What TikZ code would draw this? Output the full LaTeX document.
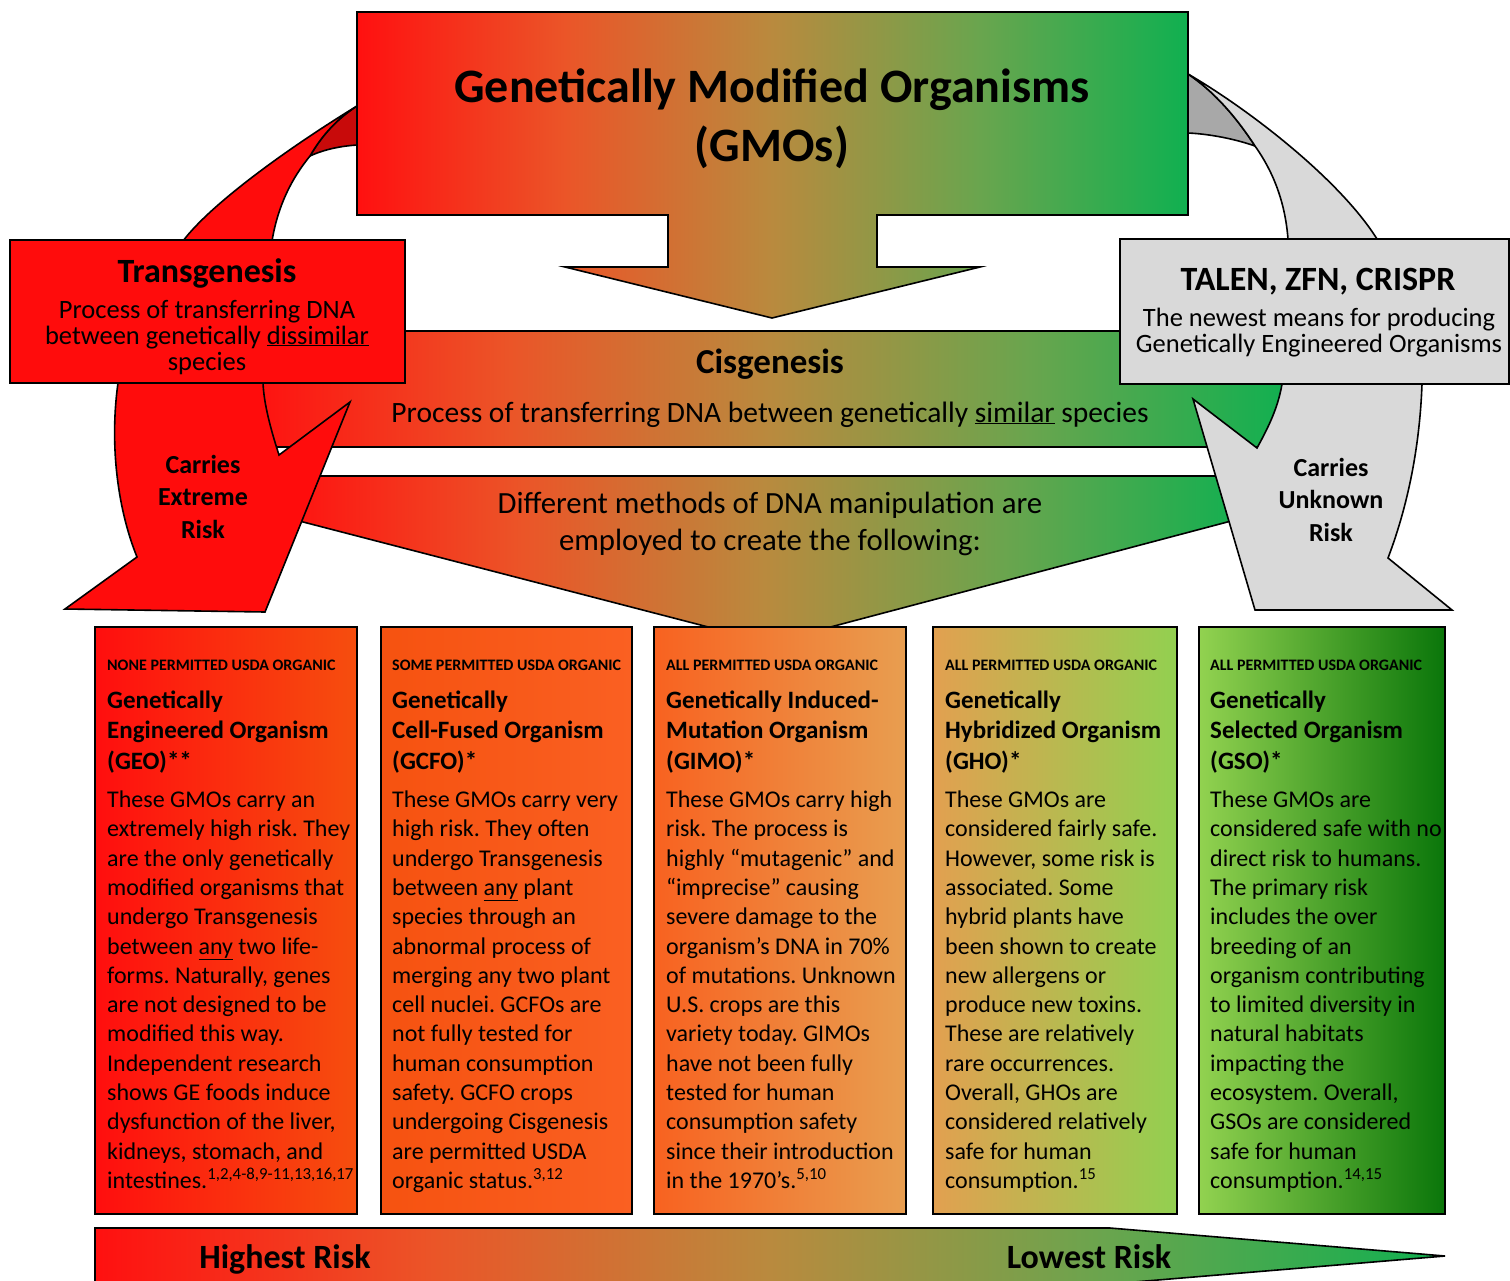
\documentclass[tikz,border=0pt]{standalone}
\usepackage{fontspec}
\setmainfont{Carlito}
\frenchspacing
\definecolor{rk1}{RGB}{255,16,16}
\definecolor{rk2}{RGB}{235,85,40}
\definecolor{rk3}{RGB}{185,138,62}
\definecolor{rk4}{RGB}{105,165,78}
\definecolor{rk5}{RGB}{16,176,80}
\definecolor{tred}{RGB}{255,12,12}
\definecolor{tredd}{RGB}{200,10,10}
\definecolor{tgry}{RGB}{217,217,217}
\definecolor{tgryd}{RGB}{168,168,168}
\definecolor{bA1}{RGB}{255,14,14}\definecolor{bA2}{RGB}{246,78,14}
\definecolor{bB1}{RGB}{246,82,16}\definecolor{bB2}{RGB}{250,96,34}
\definecolor{bC1}{RGB}{248,98,32}\definecolor{bC2}{RGB}{232,158,80}
\definecolor{bD1}{RGB}{226,160,80}\definecolor{bD2}{RGB}{200,188,80}\definecolor{bD3}{RGB}{146,208,80}
\definecolor{bE1}{RGB}{146,210,80}\definecolor{bE2}{RGB}{10,118,10}
\pgfdeclarehorizontalshading{riskshade}{100bp}{color(0bp)=(rk1); color(25bp)=(rk1); color(37.5bp)=(rk2); color(50bp)=(rk3); color(62.5bp)=(rk4); color(75bp)=(rk5); color(100bp)=(rk5)}
\begin{document}
\begin{tikzpicture}[x=1pt,y=-1pt,
  outl/.style={draw=black, line width=1.6pt, line join=miter},
  riskfill/.style={shade, shading=riskshade},
  lbl/.style={inner sep=0pt, anchor=base},
  lblw/.style={inner sep=0pt, anchor=base west},
  hdr/.style={lblw, font=\fontsize{16}{19}\selectfont\bfseries}]
\useasboundingbox (0,0) rectangle (1510,1280);
\clip (0,0) rectangle (1510,1280);

% Cisgenesis band
\path[outl, riskfill] (250,331) rectangle (1290,447);
% Different methods arrow
\path[outl, riskfill] (280,476) -- (1250,476) -- (1250,516) -- (770,643) -- (280,516) -- cycle;

% red curved arrow
\path[outl, fill=tredd] (357,106) .. controls (338,118) and (322,135) .. (310,156) .. controls (325,149) and (342,146) .. (357,145) -- cycle;
\path[outl, fill=tred] (357,106) .. controls (285,150) and (210,205) .. (183,241) -- (118,383)
   .. controls (110,440) and (116,505) .. (137,557) -- (65,609) -- (265,612) -- (350,402) -- (279,455)
   .. controls (271,430) and (264,405) .. (263,383) -- (272,241)
   .. controls (278,205) and (292,178) .. (310,156) .. controls (322,135) and (338,118) .. (357,106) -- cycle;

% grey curved arrow
\path[outl, fill=tgryd] (1188,74) .. controls (1212,90) and (1235,115) .. (1255,146) .. controls (1235,139) and (1210,134) .. (1188,133) -- cycle;
\path[outl, fill=tgry] (1188,74) .. controls (1250,110) and (1340,180) .. (1377,239) -- (1422,384)
   .. controls (1420,440) and (1410,500) .. (1388,558) -- (1452,610) -- (1255,610) -- (1193,399) -- (1257,448)
   .. controls (1268,428) and (1278,408) .. (1282,384) -- (1288,239)
   .. controls (1285,200) and (1272,170) .. (1255,146) .. controls (1235,115) and (1212,90) .. (1188,74) -- cycle;

% top box with down arrow
\path[outl, riskfill] (357,12) -- (1188,12) -- (1188,215) -- (877,215) -- (877,267) -- (980,267) -- (772,318) -- (565,267) -- (668,267) -- (668,215) -- (357,215) -- cycle;

% side boxes
\path[outl, fill=tred] (10,240) rectangle (405,383);
\path[outl, fill=tgry] (1120,239) rectangle (1509,384);

% bottom boxes
\path[outl, left color=bA1, right color=bA2] (95,627) rectangle (357,1214);
\path[outl, left color=bB1, right color=bB2] (381,627) rectangle (632,1214);
\path[outl, left color=bC1, right color=bC2] (654,627) rectangle (906,1214);
\path[outl, left color=bD1, middle color=bD2, right color=bD3] (933,627) rectangle (1177,1214);
\path[outl, left color=bE1, right color=bE2] (1199,627) rectangle (1445,1214);

% bottom risk arrow
\path[outl, riskfill] (95,1228) -- (1110,1228) -- (1445,1256) -- (1110,1284) -- (95,1284) -- cycle;

% ---------- texts ----------
\node[lbl] (title) at (772,102) {\parbox[t]{900pt}{\centering\fontsize{48}{59}\selectfont\bfseries Genetically Modified Organisms\\ (GMOs)}};

\node[lbl] (trans) at (207,282) {\fontsize{34}{40}\selectfont\bfseries Transgenesis};
\node[lbl] (transsub) at (207,318) {\parbox[t]{500pt}{\centering\fontsize{26.5}{26}\selectfont\lineskiplimit=-50pt Process of transferring DNA\\ between genetically \underline{dissimilar}\\ species}};
\node[lbl] (extreme) at (203,473) {\parbox[t]{200pt}{\centering\fontsize{26}{32.5}\selectfont\bfseries Carries\\ Extreme\\ Risk}};

\node[lbl] (talen) at (1318,290) {\fontsize{34}{40}\selectfont\bfseries TALEN, ZFN, CRISPR};
\node[lbl] (talensub) at (1319,326) {\parbox[t]{500pt}{\centering\fontsize{26.5}{26}\selectfont\lineskiplimit=-50pt The newest means for producing\\ Genetically Engineered Organisms}};
\node[lbl] (unknown) at (1331,476) {\parbox[t]{200pt}{\centering\fontsize{26}{32.5}\selectfont\bfseries Carries\\ Unknown\\ Risk}};

\node[lbl] (cis) at (770,373) {\fontsize{35}{40}\selectfont\bfseries Cisgenesis};
\node[lbl] (cissub) at (770,422) {\fontsize{29.5}{34}\selectfont Process of transferring DNA between genetically \underline{similar} species};
\node[lbl] (diff) at (770,513) {\parbox[t]{800pt}{\centering\fontsize{30.8}{37.5}\selectfont Different methods of DNA manipulation are\\ employed to create the following:}};

% box 1
\node[hdr] (h1) at (107,670) {NONE PERMITTED USDA ORGANIC};
\node[lblw] (t1) at (107,708) {\parbox[t]{300pt}{\raggedright\fontsize{25}{30.5}\selectfont\bfseries Genetically\\ Engineered Organism\\ (GEO)**}};
\node[lblw] (d1) at (107,807.5) {\parbox[t]{300pt}{\raggedright\fontsize{24}{29.3}\selectfont These GMOs carry an\\ extremely high risk. They\\ are the only genetically\\ modified organisms that\\ undergo Transgenesis\\ between \underline{any} two life-\\ forms. Naturally, genes\\ are not designed to be\\ modified this way.\\ Independent research\\ shows GE foods induce\\ dysfunction of the liver,\\ kidneys, stomach, and\\ intestines.\textsuperscript{1,2,4-8,9-11,13,16,17}}};

% box 2
\node[hdr] (h2) at (392,670) {SOME PERMITTED USDA ORGANIC};
\node[lblw] (t2) at (392,708) {\parbox[t]{300pt}{\raggedright\fontsize{25}{30.5}\selectfont\bfseries Genetically\\ Cell-Fused Organism\\ (GCFO)*}};
\node[lblw] (d2) at (392,807.5) {\parbox[t]{300pt}{\raggedright\fontsize{24}{29.3}\selectfont These GMOs carry very\\ high risk. They often\\ undergo Transgenesis\\ between \underline{any} plant\\ species through an\\ abnormal process of\\ merging any two plant\\ cell nuclei. GCFOs are\\ not fully tested for\\ human consumption\\ safety. GCFO crops\\ undergoing Cisgenesis\\ are permitted USDA\\ organic status.\textsuperscript{3,12}}};

% box 3
\node[hdr] (h3) at (666,670) {ALL PERMITTED USDA ORGANIC};
\node[lblw] (t3) at (666,708) {\parbox[t]{300pt}{\raggedright\fontsize{25}{30.5}\selectfont\bfseries Genetically Induced-\\ Mutation Organism\\ (GIMO)*}};
\node[lblw] (d3) at (666,807.5) {\parbox[t]{300pt}{\raggedright\fontsize{24}{29.3}\selectfont These GMOs carry high\\ risk. The process is\\ highly “mutagenic” and\\ “imprecise” causing\\ severe damage to the\\ organism’s DNA in 70\%\\ of mutations. Unknown\\ U.S. crops are this\\ variety today. GIMOs\\ have not been fully\\ tested for human\\ consumption safety\\ since their introduction\\ in the 1970’s.\textsuperscript{5,10}}};

% box 4
\node[hdr] (h4) at (945,670) {ALL PERMITTED USDA ORGANIC};
\node[lblw] (t4) at (945,708) {\parbox[t]{300pt}{\raggedright\fontsize{25}{30.5}\selectfont\bfseries Genetically\\ Hybridized Organism\\ (GHO)*}};
\node[lblw] (d4) at (945,807.5) {\parbox[t]{300pt}{\raggedright\fontsize{24}{29.3}\selectfont These GMOs are\\ considered fairly safe.\\ However, some risk is\\ associated. Some\\ hybrid plants have\\ been shown to create\\ new allergens or\\ produce new toxins.\\ These are relatively\\ rare occurrences.\\ Overall, GHOs are\\ considered relatively\\ safe for human\\ consumption.\textsuperscript{15}}};

% box 5
\node[hdr] (h5) at (1210,670) {ALL PERMITTED USDA ORGANIC};
\node[lblw] (t5) at (1210,708) {\parbox[t]{300pt}{\raggedright\fontsize{25}{30.5}\selectfont\bfseries Genetically\\ Selected Organism\\ (GSO)*}};
\node[lblw] (d5) at (1210,807.5) {\parbox[t]{300pt}{\raggedright\fontsize{24}{29.3}\selectfont These GMOs are\\ considered safe with no\\ direct risk to humans.\\ The primary risk\\ includes the over\\ breeding of an\\ organism contributing\\ to limited diversity in\\ natural habitats\\ impacting the\\ ecosystem. Overall,\\ GSOs are considered\\ safe for human\\ consumption.\textsuperscript{14,15}}};

% bottom labels
\node[lbl] (high) at (285,1268) {\fontsize{34}{40}\selectfont\bfseries Highest Risk};
\node[lbl] (low) at (1089,1268) {\fontsize{34}{40}\selectfont\bfseries Lowest Risk};
\end{tikzpicture}
\end{document}
